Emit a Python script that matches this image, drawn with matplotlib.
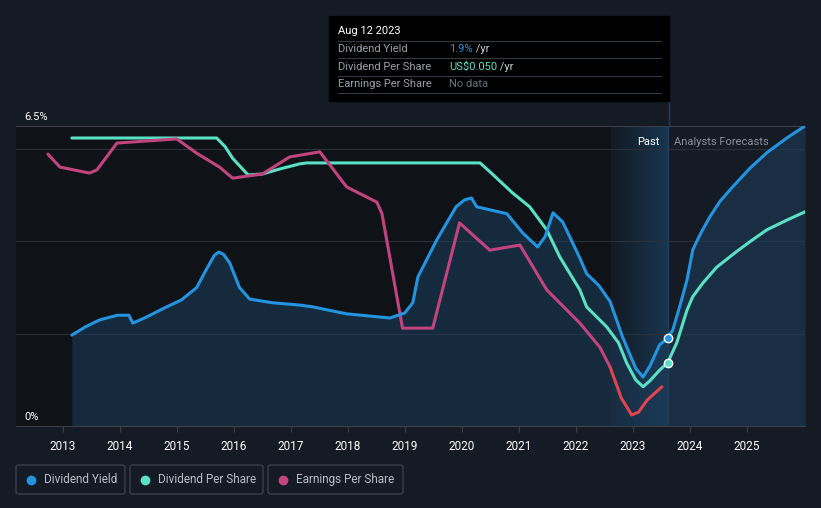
import numpy as np
import matplotlib.pyplot as plt
from matplotlib.patches import Rectangle, FancyBboxPatch
from matplotlib.colors import LinearSegmentedColormap

plt.rcParams['font.family'] = ['Roboto', 'DejaVu Sans']

# dividend yield (%)
dy_x = [2013.16, 2013.4, 2013.65, 2013.96, 2014.16, 2014.23, 2014.45, 2014.82, 2015.08, 2015.35, 2015.5,
        2015.66, 2015.74, 2015.82, 2015.93, 2016.1, 2016.28, 2016.68, 2017.16, 2017.39, 2017.98, 2018.74,
        2019.0, 2019.14, 2019.23, 2019.56, 2019.9, 2020.05, 2020.17, 2020.26, 2020.79, 2021.07, 2021.33,
        2021.46, 2021.6, 2021.77, 2022.07, 2022.19, 2022.4, 2022.6, 2022.82, 2023.05, 2023.18, 2023.3,
        2023.47, 2023.61]
dy_y = [1.97, 2.15, 2.3, 2.4, 2.4, 2.23, 2.35, 2.58, 2.73, 3.0, 3.35,
        3.7, 3.77, 3.72, 3.53, 3.0, 2.75, 2.67, 2.62, 2.58, 2.43, 2.34,
        2.45, 2.67, 3.23, 4.03, 4.75, 4.9, 4.94, 4.75, 4.6, 4.18, 3.88,
        4.1, 4.62, 4.42, 3.64, 3.3, 3.05, 2.7, 1.93, 1.25, 1.06, 1.3,
        1.76, 1.9]
dy_fx = [2023.61, 2023.7, 2023.82, 2023.95, 2024.05, 2024.18, 2024.35, 2024.53, 2024.75, 2025.05, 2025.35,
         2025.7, 2026.02]
dy_fy = [1.9, 2.08, 2.58, 3.16, 3.81, 4.15, 4.53, 4.87, 5.18, 5.58, 5.92,
         6.24, 6.5]

# dividend per share (scaled to the same axis)
dps_x = [2013.16, 2015.7, 2015.85, 2015.98, 2016.25, 2016.5, 2016.81, 2017.16, 2017.28, 2020.32, 2020.5,
         2020.89, 2021.19, 2021.49, 2021.72, 2022.07, 2022.19, 2022.54, 2022.75, 2022.89, 2023.05, 2023.18,
         2023.3, 2023.47, 2023.61]
dps_y = [6.24, 6.24, 6.05, 5.8, 5.44, 5.46, 5.57, 5.68, 5.7, 5.7, 5.5,
         5.05, 4.75, 4.25, 3.66, 2.95, 2.58, 2.15, 1.8, 1.37, 1.0, 0.85,
         0.98, 1.21, 1.37]
dps_fx = [2023.61, 2023.77, 2023.95, 2024.05, 2024.23, 2024.47, 2024.82, 2025.05, 2025.35, 2025.7, 2026.02]
dps_fy = [1.37, 1.8, 2.51, 2.8, 3.1, 3.44, 3.78, 3.99, 4.25, 4.46, 4.64]

# earnings per share (scaled)
eps_x = [2012.74, 2012.95, 2013.47, 2013.6, 2013.95, 2015.0, 2015.35, 2015.75, 2015.98, 2016.5, 2016.98,
         2017.51, 2017.98, 2018.51, 2018.6, 2018.96, 2019.49, 2019.96, 2020.49, 2021.02, 2021.49, 2022.07,
         2022.42, 2022.6]
eps_y = [5.89, 5.61, 5.48, 5.55, 6.13, 6.22, 5.91, 5.61, 5.37, 5.46, 5.83,
         5.94, 5.18, 4.85, 4.6, 2.12, 2.12, 4.4, 3.81, 3.92, 2.95, 2.23,
         1.71, 1.28]
eps_rx = [2022.6, 2022.8, 2022.98, 2023.1, 2023.25, 2023.51]
eps_ry = [1.28, 0.6, 0.24, 0.3, 0.56, 0.85]

years = list(range(2013, 2026))

BG = "#151b25"
BLUE = "#2394df"
TEAL = "#5ae0c4"
PINK = "#c2447f"
RED = "#e0454d"
now = 2023.61
x0, x1 = 2012.18, 2026.02

fig = plt.figure(figsize=(8.21, 5.08), dpi=100, facecolor=BG)
ax = fig.add_axes([16/821, 82/508, 789/821, 300/508])
ax.set_facecolor(BG)
ax.set_xlim(x0, x1)
ax.set_ylim(0, 6.5)

# past area darker, last-year band with a gradient
ax.add_patch(Rectangle((x0, 0), 2022.61 - x0, 6.5, color="#0f1318", zorder=0, lw=0))
grad = np.linspace(0, 1, 64).reshape(1, -1)
cm = LinearSegmentedColormap.from_list("band", ["#121a24", "#183650"])
ax.imshow(grad, cmap=cm, extent=[2022.61, now, 0, 6.5], aspect="auto", zorder=0)

for g in [2, 4, 6]:
    ax.axhline(g, color="#2a2f38", lw=0.8, zorder=1)
ax.axhline(6.5, color="#3a3f48", lw=0.8, zorder=1)
ax.axvline(now, color="#22405e", lw=1, zorder=1)

# fill under dividend yield
ax.fill_between(dy_x + dy_fx[1:], dy_y + dy_fy[1:], 0, color="#1d3d5c", alpha=0.55, lw=0, zorder=2)

kw = dict(lw=2.2, solid_capstyle="round", solid_joinstyle="round")
ax.plot(dy_x, dy_y, color=BLUE, zorder=4, **kw)
ax.plot(dy_fx, dy_fy, color=BLUE, zorder=4, **kw)
ax.plot(dps_x, dps_y, color=TEAL, zorder=3, **kw)
ax.plot(dps_fx, dps_fy, color=TEAL, zorder=3, **kw)
ax.plot(eps_x, eps_y, color=PINK, zorder=3, **kw)
ax.plot(eps_rx, eps_ry, color=RED, zorder=3, **kw)
ax.plot([now], [dy_y[-1]], "o", ms=6, mfc=BLUE, mec="white", mew=1, zorder=6)
ax.plot([now], [dps_y[-1]], "o", ms=6, mfc=TEAL, mec="white", mew=1, zorder=6)

for s in ["left", "right", "top"]:
    ax.spines[s].set_visible(False)
ax.spines["bottom"].set_color("#3a3f48")
ax.set_yticks([])
ax.set_xticks(years)
ax.set_xticklabels([str(y) for y in years], color="white", fontsize=8.5)
ax.tick_params(axis="x", colors="#3a3f48", labelcolor="white", length=4, pad=6)

ax.text(0.011, 6.62, "6.5%", color="white", fontsize=8, transform=ax.get_yaxis_transform())
ax.text(0.011, 0.12, "0%", color="white", fontsize=8, transform=ax.get_yaxis_transform())
ax.text(now - 0.15, 6.15, "Past", color="white", fontsize=8, ha="right", va="center")
ax.text(now + 0.12, 6.15, "Analysts Forecasts", color="#8a8f98", fontsize=8, ha="left", va="center")

# tooltip
W, H = 821, 508
fig.add_artist(Rectangle((329/W, (H-101)/H), 340/W, 85/H, transform=fig.transFigure, color="black", zorder=10))
fig.text(338/W, 1 - 31/H, "Aug 12 2023", color="white", fontsize=8, va="center", zorder=11)
rows = [("Dividend Yield", "1.9%", BLUE, " /yr"), ("Dividend Per Share", "US$0.050", TEAL, " /yr"),
        ("Earnings Per Share", "No data", "#6a6f78", "")]
for i, (lab, val, c, suf) in enumerate(rows):
    yy = 49 + 17.5 * i
    fig.text(338/W, 1 - yy/H, lab, color="#9a9ea6", fontsize=8, va="center", zorder=11)
    t = fig.text(449/W, 1 - yy/H, val, color=c, fontsize=8, va="center", zorder=11)
    if suf:
        fig.canvas.draw()
        bb = t.get_window_extent()
        fig.text(bb.x1/W, 1 - yy/H, suf, color="#c8ccd2", fontsize=8, va="center", zorder=11)
for yl in [41, 58, 76, 93]:
    fig.add_artist(plt.Line2D([338/W, 661/W], [1 - yl/H, 1 - yl/H], color="#34383f", lw=0.8, zorder=11))
fig.add_artist(plt.Line2D([669/W, 669/W], [1 - 101/H, 1 - 126/H], color="#22405e", lw=1))

# legend boxes
items = [("Dividend Yield", BLUE, 16, 125), ("Dividend Per Share", TEAL, 130, 263),
         ("Earnings Per Share", PINK, 268, 403)]
for lab, c, xa, xb in items:
    fig.add_artist(FancyBboxPatch((xa/W, (H-494)/H), (xb-xa)/W, 29/H, boxstyle="round,pad=0,rounding_size=0.004",
                                  transform=fig.transFigure, fc=BG, ec="#3a3f48", lw=1))
    fig.add_artist(plt.Line2D([(xa+15)/W], [1 - 479.5/H], marker="o", ms=6, color=c, transform=fig.transFigure))
    fig.text((xa+28)/W, 1 - 479.5/H, lab, color="#b8bcc4", fontsize=8.5, va="center")

fig.savefig("out.png", dpi=100, facecolor=BG)
